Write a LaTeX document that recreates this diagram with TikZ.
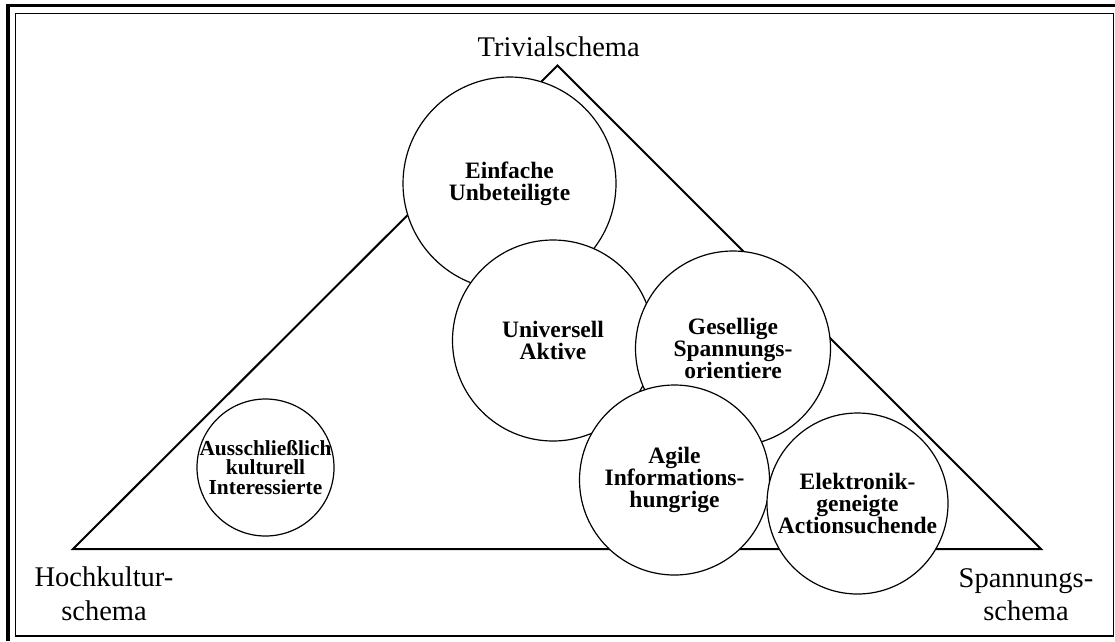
\documentclass[tikz,border=0pt]{standalone}
\usepackage{fontspec}
\setmainfont{Liberation Serif}

% allow line spacing tighter than the glyph extents
\newcommand{\tightlines}{\lineskiplimit=-8pt\relax}

\tikzset{
  segment/.style={circle, draw, fill=white, line width=1.2pt, inner sep=0pt},
  segtext/.style={align=center, inner sep=0pt,
    font=\fontsize{23.5}{21.7}\selectfont\bfseries\tightlines},
  segtextsmall/.style={align=center, inner sep=0pt,
    font=\fontsize{21.4}{19.3}\selectfont\bfseries\tightlines},
  cornerlabel/.style={align=center, inner sep=0pt,
    font=\fontsize{28.5}{33.3}\selectfont\tightlines},
}

\begin{document}
\begin{tikzpicture}[x=1pt, y=-1pt]
\useasboundingbox (0,0) rectangle (1115,641);

% frame: heavy rule on top and left, thin inner rectangle
\draw[line width=3.5pt] (8,641) -- (8,5.5) -- (1115,5.5);
\draw[line width=1.3pt] (15.3,13.3) rectangle (1113.2,636);

% schema triangle
\coordinate (hoch) at (73,549);
\coordinate (triv) at (557.5,65.5);
\coordinate (spann) at (1041,549);
\draw[line width=2pt] (hoch) -- (triv) -- (spann) -- cycle;

% corner labels
\node[cornerlabel, anchor=base] (ltriv) at (558.7,56.7) {Trivialschema};
\node[cornerlabel] (lhoch) at (104,593.6) {Hochkultur-\\schema};
\node[cornerlabel] (lspann) at (1026,594.4) {Spannungs-\\schema};

% lifestyle segments, later ones lie on top
\node[segment, minimum size=137pt] (kult) at (265.5,467.5) {};
\node[segtextsmall] (tkult) at (kult) {Ausschließlich\\kulturell\\Interessierte};

\node[segment, minimum size=213pt] (einf) at (509.5,183.5) {};
\node[segtext] (teinf) at (einf) {Einfache\\Unbeteiligte};

\node[segment, minimum size=201pt] (univ) at (553,340.5) {};
\node[segtext] (tuniv) at (univ) {Universell\\Aktive};

\node[segment, minimum size=195pt] (gesel) at (733,348.5) {};
\node[segtext] (tgesel) at (gesel) {Gesellige\\Spannungs-\\orientiere};

\node[segment, minimum size=190pt] (agil) at (674.5,480) {};
\node[segtext] (tagil) at (agil) {Agile\\Informations-\\hungrige};

\node[segment, minimum size=181pt] (elek) at (857.5,503.5) {};
\node[segtext] (telek) at (elek) {Elektronik-\\geneigte\\Actionsuchende};
\end{tikzpicture}
\end{document}
